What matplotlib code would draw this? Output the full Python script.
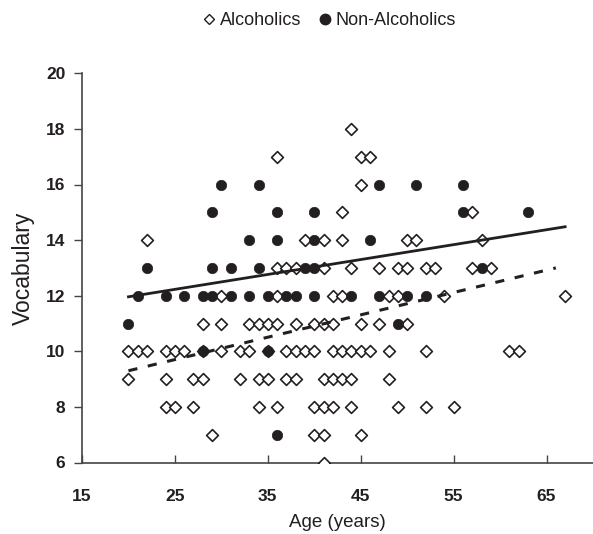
import numpy as np
import matplotlib
matplotlib.use("Agg")
import matplotlib.pyplot as plt
from matplotlib.lines import Line2D

plt.rcParams['font.family'] = ['Liberation Sans', 'DejaVu Sans']

# Alcoholics (age, vocabulary)
alc_age = [20, 21, 22, 24, 25, 26, 28, 30, 32, 33, 35, 37, 38, 39, 40, 42, 43, 44, 45, 46, 48, 52, 61, 62,   # 10
           20, 24, 27, 28, 32, 34, 35, 37, 38, 41, 42, 43, 44, 48,                                            # 9
           24, 25, 27, 34, 36, 40, 41, 42, 44, 49, 52, 55,                                                     # 8
           29, 40, 41, 45,                                                                                     # 7
           41,                                                                                                 # 6
           28, 30, 33, 34, 35, 36, 38, 40, 41, 42, 45, 47, 50,                                                 # 11
           30, 36, 42, 43, 48, 49, 54, 67,                                                                     # 12
           36, 37, 38, 41, 44, 47, 49, 50, 52, 53, 57, 59,                                                     # 13
           22, 39, 41, 43, 50, 51, 58,                                                                         # 14
           43, 57,                                                                                             # 15
           45,                                                                                                 # 16
           36, 45, 46,                                                                                         # 17
           44]                                                                                                 # 18
alc_voc = ([10] * 24 + [9] * 14 + [8] * 12 + [7] * 4 + [6] * 1 + [11] * 13 + [12] * 8 +
           [13] * 12 + [14] * 7 + [15] * 2 + [16] * 1 + [17] * 3 + [18] * 1)

# Non-alcoholics (age, vocabulary)
non_age = [36,                                                          # 7
           28, 35,                                                      # 10
           20, 49,                                                      # 11
           21, 24, 26, 28, 29, 31, 33, 35, 37, 38, 40, 44, 47, 50, 52,  # 12
           22, 29, 31, 34, 39, 40, 58,                                  # 13
           33, 36, 40, 46,                                              # 14
           29, 36, 40, 56, 63,                                          # 15
           30, 34, 47, 51, 56]                                          # 16
non_voc = [7] + [10] * 2 + [11] * 2 + [12] * 15 + [13] * 7 + [14] * 4 + [15] * 5 + [16] * 5

# Trend lines (end points: age, vocabulary)
alc_trend_age = [20, 66]
alc_trend_voc = [9.3, 13.0]
non_trend_age = [20, 67]
non_trend_voc = [11.96, 14.48]

x_ticks = [15, 25, 35, 45, 55, 65]
y_ticks = [6, 8, 10, 12, 14, 16, 18, 20]

ink = '#231f20'

fig = plt.figure(figsize=(5.93, 5.34), dpi=100)
ax = fig.add_axes([82 / 593, 71.5 / 534, 511 / 593, 389.2 / 534])

ax.scatter(alc_age, alc_voc, marker='D', s=36, facecolors='white',
           edgecolors=ink, linewidths=1.2, zorder=3)
ax.scatter(non_age, non_voc, marker='o', s=56, facecolors=ink,
           edgecolors=ink, linewidths=0.5, zorder=4)

ax.plot(alc_trend_age, alc_trend_voc, color=ink, lw=2.2, ls=(0, (3, 3.5)), zorder=5)
ax.plot(non_trend_age, non_trend_voc, color=ink, lw=2.0, ls='-', zorder=5)

ax.set_xlim(15, 70)
ax.set_ylim(6, 20)
ax.set_xticks(x_ticks)
ax.set_yticks(y_ticks)
ax.spines['top'].set_visible(False)
ax.spines['right'].set_visible(False)
for s in ('left', 'bottom'):
    ax.spines[s].set_color('#444444')
    ax.spines[s].set_linewidth(1.2)
ax.tick_params(axis='x', direction='in', length=6, width=1, colors='#444444', pad=19)
ax.tick_params(axis='y', direction='out', length=6, width=1, colors='#444444', pad=6)
for lab in ax.get_xticklabels() + ax.get_yticklabels():
    lab.set_fontweight('bold')
    lab.set_fontsize(12.5)
    lab.set_color(ink)

ax.set_xlabel('Age (years)', fontsize=13.5, color=ink, labelpad=7)
ax.set_ylabel('Vocabulary', fontsize=16.5, color=ink, labelpad=8)

handles = [Line2D([], [], marker='D', ls='none', markerfacecolor='white',
                  markeredgecolor=ink, markersize=5.5, markeredgewidth=1.0),
           Line2D([], [], marker='o', ls='none', markerfacecolor=ink,
                  markeredgecolor=ink, markersize=7.5)]
fig.legend(handles, ['Alcoholics', 'Non-Alcoholics'], loc='center',
           bbox_to_anchor=(328 / 593, 1 - 21 / 534), ncol=2, frameon=False,
           fontsize=13, handletextpad=0.1, columnspacing=0.8, handlelength=1.0,
           labelcolor=ink)

fig.savefig('out.png', dpi=100)
